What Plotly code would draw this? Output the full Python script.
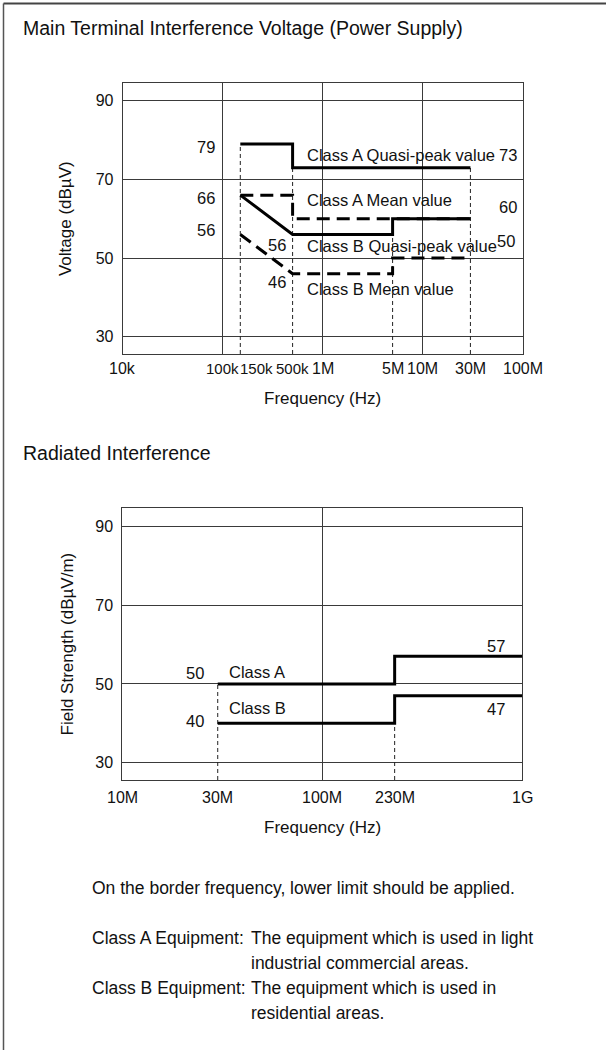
import numpy as np
import plotly.graph_objects as go

W, H = 606, 1050

# --- main terminal interference voltage (Hz, dBuV) ---
a_qp_f = [150e3, 500e3, 500e3, 30e6]
a_qp_v = [79, 79, 73, 73]
a_mean_f = [150e3, 500e3, 500e3, 30e6]
a_mean_v = [66, 66, 60, 60]
b_qp_f = [150e3, 500e3, 5e6, 5e6, 30e6]
b_qp_v = [66, 56, 56, 60, 60]
b_mean_f = [150e3, 500e3, 5e6, 5e6, 30e6]
b_mean_v = [56, 46, 46, 50, 50]

cond_border_f = [150e3, 500e3, 5e6, 30e6]
cond_border_top = [79, 73, 56, 73]

cond_tick_f = [1e4, 1e5, 150e3, 500e3, 1e6, 5e6, 1e7, 30e6, 1e8]
cond_tick_txt = ['10k', '100k', '150k', '500k', '1M', '5M', '10M', '30M', '100M']

# --- radiated interference (Hz, dBuV/m) ---
rad_f = [30e6, 230e6, 230e6, 1e9]
rad_a = [50, 50, 57, 57]
rad_b = [40, 40, 47, 47]

rad_border_f = [30e6, 230e6]
rad_border_top = [50, 40]

rad_tick_f = [1e7, 30e6, 1e8, 230e6, 1e9]
rad_tick_txt = ['10M', '30M', '100M', '230M', '1G']

y_ticks = [30, 50, 70, 90]
y_range = [25.6, 94.6]

FONT = 'Liberation Sans, Arial, Helvetica, sans-serif'
INK = '#111'
GRID = '#3a3a3a'
LS = 16.5  # label size


def px_x(x):
    return x / W


def px_y(y):
    return 1 - y / H


fig = go.Figure()


def limit(f, v, xa, ya, dashed=False):
    fig.add_trace(go.Scatter(x=f, y=v, mode='lines', xaxis=xa, yaxis=ya, hoverinfo='skip',
                             line=dict(color='black', width=3, dash='13px,7px' if dashed else 'solid')))


def border(f, top, xa, ya):
    for fx, t in zip(f, top):
        fig.add_trace(go.Scatter(x=[fx, fx], y=[y_range[0], t], mode='lines', xaxis=xa, yaxis=ya,
                                 hoverinfo='skip', line=dict(color='#222', width=1, dash='4px,3px')))


border(cond_border_f, cond_border_top, 'x', 'y')
limit(a_qp_f, a_qp_v, 'x', 'y')
limit(a_mean_f, a_mean_v, 'x', 'y', dashed=True)
limit(b_qp_f, b_qp_v, 'x', 'y')
limit(b_mean_f, b_mean_v, 'x', 'y', dashed=True)

border(rad_border_f, rad_border_top, 'x2', 'y2')
limit(rad_f, rad_a, 'x2', 'y2')
limit(rad_f, rad_b, 'x2', 'y2')

ann = []


def lab(text, f, v, xa, ya, anchor='center', dx=0, dy=0):
    ann.append(dict(text=text, x=np.log10(f), y=v, xref=xa, yref=ya, xanchor=anchor, yanchor='middle',
                    xshift=dx, yshift=dy, showarrow=False, font=dict(size=LS, color=INK)))


# labels, top chart
lab('79', 150e3, 79, 'x', 'y', 'right', -23, -3)
lab('66', 150e3, 66, 'x', 'y', 'right', -23, -3)
lab('56', 150e3, 56, 'x', 'y', 'right', -23, 4)
lab('56', 500e3, 56, 'x', 'y', 'right', -5, -11)
lab('46', 500e3, 46, 'x', 'y', 'right', -5, -8)
lab('Class A Quasi-peak value', 500e3, 73, 'x', 'y', 'left', 12, 13)
lab('Class A Mean value', 500e3, 60, 'x', 'y', 'left', 12, 19)
lab('Class B Quasi-peak value', 500e3, 56, 'x', 'y', 'left', 12, -12)
lab('Class B Mean value', 500e3, 46, 'x', 'y', 'left', 12, -15)
lab('73', 1e8, 73, 'x', 'y', 'right', -4, 13)
lab('60', 1e8, 60, 'x', 'y', 'right', -4, 12)
lab('50', 1e8, 50, 'x', 'y', 'right', -6, 17)

# labels, bottom chart
lab('50', 30e6, 50, 'x2', 'y2', 'right', -12, 11)
lab('40', 30e6, 40, 'x2', 'y2', 'right', -12, 2)
lab('Class A', 30e6, 50, 'x2', 'y2', 'left', 9, 12)
lab('Class B', 30e6, 40, 'x2', 'y2', 'left', 9, 15)
lab('57', 1e9, 57, 'x2', 'y2', 'right', -15, 10)
lab('47', 1e9, 47, 'x2', 'y2', 'right', -15, -13)

# x tick labels (the three crowded "k" labels a touch smaller)
for f, t in zip(cond_tick_f, cond_tick_txt):
    ann.append(dict(text=t, x=np.log10(f), y=0, xref='x', yref='y domain', yanchor='middle', yshift=-14,
                    xanchor='left' if t == '150k' else 'center', xshift=-2 if t == '150k' else 0,
                    showarrow=False, font=dict(size=15 if len(t) == 4 and t.endswith('k') else 16, color=INK)))
for f, t in zip(rad_tick_f, rad_tick_txt):
    ann.append(dict(text=t, x=np.log10(f), y=0, xref='x2', yref='y2 domain', yanchor='middle', yshift=-17,
                    xanchor='center', showarrow=False, font=dict(size=16, color=INK)))

# axis titles
ann += [
    dict(text='Frequency (Hz)', x=0.5, y=0, xref='x domain', yref='y domain', yshift=-44,
         yanchor='middle', showarrow=False, font=dict(size=17, color=INK)),
    dict(text='Voltage (dBµV)', x=0, y=0.5, xref='x domain', yref='y domain', xshift=-57,
         xanchor='center', yanchor='middle', textangle=-90, showarrow=False, font=dict(size=17, color=INK)),
    dict(text='Frequency (Hz)', x=0.5, y=0, xref='x2 domain', yref='y2 domain', yshift=-47,
         yanchor='middle', showarrow=False, font=dict(size=17, color=INK)),
    dict(text='Field Strength (dBµV/m)', x=0, y=0.5, xref='x2 domain', yref='y2 domain', xshift=-55,
         xanchor='center', yanchor='middle', textangle=-90, showarrow=False, font=dict(size=17, color=INK)),
]

# headings and notes
def note(text, x, y, size=17.5):
    ann.append(dict(text=text, x=px_x(x - 2), y=px_y(y), xref='paper', yref='paper', xanchor='left',
                    yanchor='middle', showarrow=False, font=dict(size=size, color=INK)))


note('Main Terminal Interference Voltage (Power Supply)', 23, 28, 19.5)
note('Radiated Interference', 23, 453, 19.5)
note('On the border frequency, lower limit should be applied.', 91.5, 888)
note('Class A Equipment:', 91.5, 938)
note('The equipment which is used in light', 250.5, 938)
note('industrial commercial areas.', 250.5, 963)
note('Class B Equipment:', 91.5, 988)
note('The equipment which is used in', 250.5, 988)
note('residential areas.', 250.5, 1013)

frame = dict(showline=True, mirror=True, linecolor=GRID, linewidth=1, showgrid=True,
             gridcolor=GRID, gridwidth=1, zeroline=False, ticks='')

fig.update_layout(
    width=W, height=H, margin=dict(l=0, r=0, t=0, b=0),
    paper_bgcolor='white', plot_bgcolor='white', showlegend=False,
    font=dict(family=FONT, size=16, color=INK),
    xaxis=dict(type='log', range=[4, 8], domain=[px_x(122.7), px_x(522.7)], anchor='y',
               tickvals=[1e5, 1e6, 1e7], showticklabels=False, **frame),
    yaxis=dict(range=y_range, domain=[px_y(354), px_y(82.7)], anchor='x',
               tickvals=y_ticks, ticklabelstandoff=5, **frame),
    xaxis2=dict(type='log', range=[7, 9], domain=[px_x(122.3), px_x(522.3)], anchor='y2',
                tickvals=[1e8], showticklabels=False, **frame),
    yaxis2=dict(range=y_range, domain=[px_y(780), px_y(508.3)], anchor='x2',
                tickvals=y_ticks, ticklabelstandoff=5, **frame),
    annotations=ann,
    shapes=[
        dict(type='line', xref='paper', yref='paper', x0=px_x(3.5), x1=1, y0=px_y(3.5), y1=px_y(3.5),
             line=dict(color='#444', width=2)),
        dict(type='line', xref='paper', yref='paper', x0=px_x(3.5), x1=px_x(3.5), y0=px_y(3.5), y1=0,
             line=dict(color='#555', width=1.5)),
    ],
)

# page body margin would push the figure 8px in; drop it
fig.write_html("out.html", config={'displayModeBar': False},
               post_script="document.body.style.margin='0';document.body.style.overflow='hidden';")
